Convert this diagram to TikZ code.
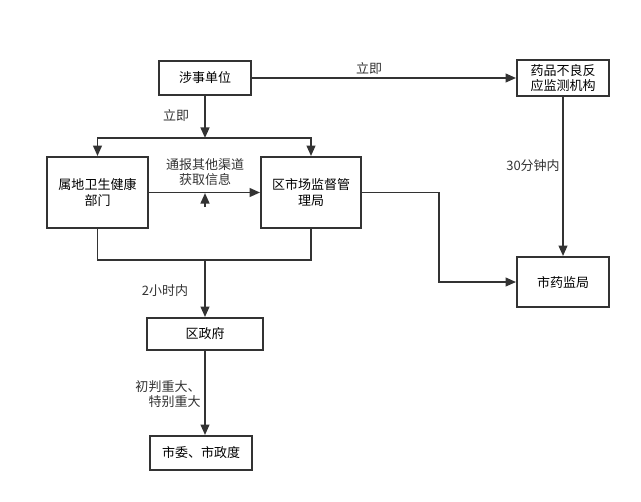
\documentclass[tikz,border=0pt]{standalone}
\usepackage{fontspec}
\setmainfont{Noto Sans CJK SC}
\usetikzlibrary{arrows.meta,positioning}
\definecolor{ink}{HTML}{333333}
\tikzstyle{box}=[draw=ink, line width=1.1pt, align=center, inner sep=0pt]
\tikzstyle{line}=[draw=ink, line width=1.1pt]
\tikzstyle{arr}=[line, -{Triangle[length=6pt,width=5pt]}]
\tikzstyle{lbl}=[text=ink, align=center, inner sep=0pt]

\begin{document}
\begin{tikzpicture}[x=0.02cm, y=-0.02cm, font=\fontsize{7.4pt}{8.6pt}\selectfont]
	\useasboundingbox (0,0) rectangle (641,501);

	% boxes
	\node[box, minimum width=1.84cm, minimum height=0.68cm] (shishi) at (205,78) {涉事单位};
	\node[box, minimum width=1.84cm, minimum height=0.72cm] (yaopin) at (563,78) {药品不良反\\应监测机构};
	\node[box, minimum width=2.02cm, minimum height=1.42cm] (weisheng) at (97.5,192.5) {属地卫生健康\\部门};
	\node[box, minimum width=2.0cm, minimum height=1.42cm] (shichang) at (311,192.5) {区市场监督管\\理局};
	\node[box, minimum width=1.84cm, minimum height=1.0cm] (shiyaojian) at (563,282) {市药监局};
	\node[box, minimum width=2.32cm, minimum height=0.64cm] (quzhengfu) at (205,334) {区政府};
	\node[box, minimum width=2.04cm, minimum height=0.68cm] (shiwei) at (201,453) {市委、市政度};

	% branch points
	\coordinate (split) at (205,138);
	\coordinate (join) at (205,260);
	\coordinate (bend) at (439,192.5);
	\coordinate (tip) at (205,193);
	\coordinate (tipbase) at (205,207);

	% connectors
	\draw[arr] (shishi) -- (split);
	\draw[arr] (split) -| (weisheng.north);
	\draw[arr] (split) -| (shichang.north);
	\draw[arr] (shishi) -- (yaopin);
	\draw[arr] (weisheng) -- (shichang);
	\draw[arr] (tipbase) -- (tip);
	\draw[line] (weisheng.south) |- (join);
	\draw[line] (shichang.south) |- (join);
	\draw[arr] (join) -- (quzhengfu);
	\draw[arr] (shichang) -- (bend) |- (shiyaojian);
	\draw[arr] (yaopin) -- (shiyaojian);
	\draw[arr] (quzhengfu.south) -- (quzhengfu.south |- shiwei.north);

	% labels
	\node[lbl] (l1) at (369,69) {立即};
	\node[lbl] (l2) at (176,116) {立即};
	\node[lbl] (l3) at (205,172) {通报其他渠道\\获取信息};
	\node[lbl] (l4) at (533,166) {30分钟内};
	\node[lbl] (l5) at (165,291) {2小时内};
	\node[lbl, align=right] (l6) at (168,394) {初判重大、\\特别重大};
\end{tikzpicture}
\end{document}
